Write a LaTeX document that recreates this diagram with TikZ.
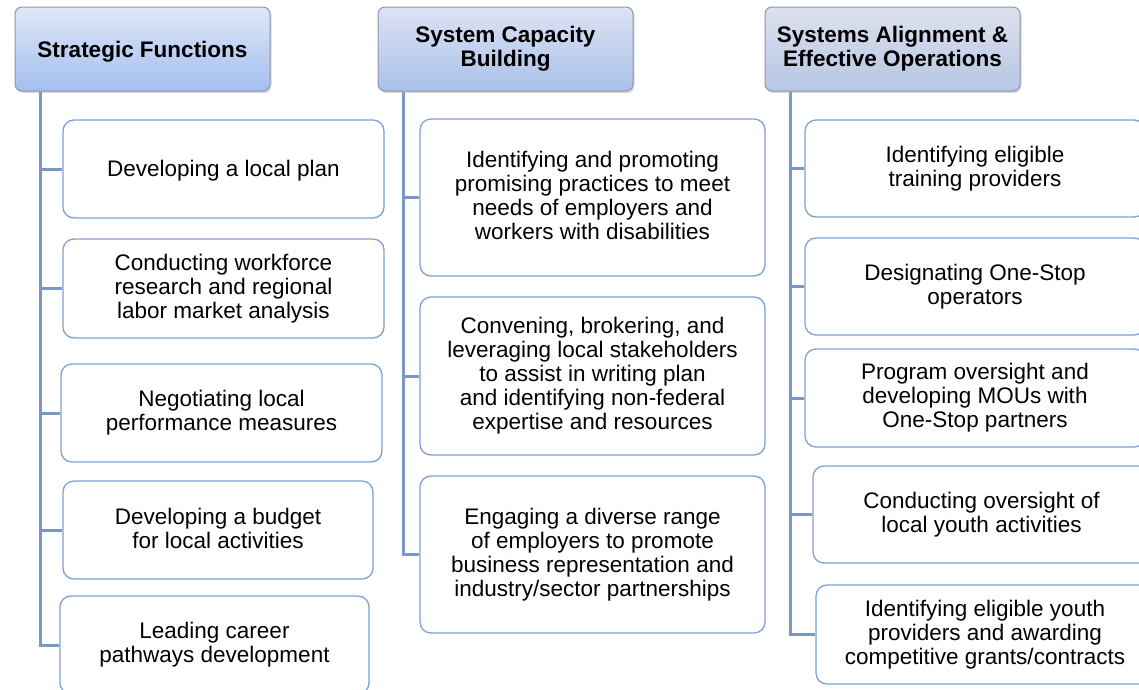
\documentclass[tikz,border=0pt]{standalone}
\usepackage{fontspec}
\setmainfont{Liberation Sans}
\usetikzlibrary{shadows}
\definecolor{conn}{HTML}{7B97C6}
\definecolor{boxline}{HTML}{7FA0D4}
\definecolor{hdline}{HTML}{8C96AA}
\begin{document}
\begin{tikzpicture}[x=1pt,y=-1pt,
  hdr/.style={rectangle, rounded corners=7pt, draw=hdline, line width=1pt,
    inner sep=0pt, align=center,
    font=\fontsize{22.5}{24}\selectfont\bfseries,
    minimum width=255pt, minimum height=84pt,
    execute at begin node={\rule{0pt}{21pt}},
    execute at end node={\rule[-3pt]{0pt}{3pt}},
    drop shadow={shadow xshift=1.5pt, shadow yshift=-2pt, opacity=0.3}},
  item/.style={rectangle, rounded corners=11pt, draw=boxline, line width=1.3pt,
    fill=white, inner sep=0pt, align=center,
    execute at begin node={\rule{0pt}{20pt}},
    execute at end node={\rule[-4pt]{0pt}{4pt}},
    font=\fontsize{22.5}{24}\selectfont},
  link/.style={draw=conn, line width=3pt}]
\useasboundingbox (0,0) rectangle (1139,689);
\clip (0,0) rectangle (1139,689);

% headers
\node[hdr, top color={rgb,255:red,222;green,231;blue,247}, bottom color={rgb,255:red,164;green,190;blue,238}] (h1) at (142.5,49) {Strategic Functions};
\node[hdr, top color={rgb,255:red,220;green,227;blue,243}, bottom color={rgb,255:red,170;green,192;blue,234}] (h2) at (505.5,49) {System Capacity\\Building};
\node[hdr, top color={rgb,255:red,221;green,225;blue,236}, bottom color={rgb,255:red,183;green,198;blue,228}] (h3) at (892.5,49) {Systems Alignment \&\\Effective Operations};

% column 1
\node[item, minimum width=321pt, minimum height=98pt] (b11) at (223.5,169) {Developing a local plan};
\node[item, minimum width=321pt, minimum height=99pt] (b12) at (223.5,288.5) {Conducting workforce\\research and regional\\labor market analysis};
\node[item, minimum width=321pt, minimum height=98pt] (b13) at (221.5,413) {Negotiating local\\performance measures};
\node[item, minimum width=310pt, minimum height=98pt] (b14) at (218,530) {Developing a budget\\for local activities};
\node[item, minimum width=309pt, minimum height=98pt] (b15) at (214.5,645) {Leading career\\pathways development};

% column 2
\node[item, minimum width=345pt, minimum height=157pt] (b21) at (592.5,197.5) {Identifying and promoting\\promising practices to meet\\needs of employers and\\workers with disabilities};
\node[item, minimum width=345pt, minimum height=158pt] (b22) at (592.5,376) {Convening, brokering, and\\leveraging local stakeholders\\to assist in writing plan\\and identifying non-federal\\expertise and resources};
\node[item, minimum width=345pt, minimum height=157pt] (b23) at (592.5,554.5) {Engaging a diverse range\\of employers to promote\\business representation and\\industry/sector partnerships};

% column 3
\node[item, minimum width=340pt, minimum height=97pt] (b31) at (975,168.5) {Identifying eligible\\training providers};
\node[item, minimum width=340pt, minimum height=97pt] (b32) at (975,286.5) {Designating One-Stop\\operators};
\node[item, minimum width=340pt, minimum height=98pt] (b33) at (975,398) {Program oversight and\\developing MOUs with\\One-Stop partners};
\node[item, minimum width=337pt, minimum height=97pt] (b34) at (981.5,514.5) {Conducting oversight of\\local youth activities};
\node[item, minimum width=338pt, minimum height=99pt] (b35) at (985,634.5) {Identifying eligible youth\\providers and awarding\\competitive grants/contracts};

% connectors
\foreach \b in {b11,b12,b13,b14,b15}
  \draw[link] ([xshift=26pt]h1.south west) |- (\b.west);
\foreach \b in {b21,b22,b23}
  \draw[link] ([xshift=26pt]h2.south west) |- (\b.west);
\foreach \b in {b31,b32,b33,b34,b35}
  \draw[link] ([xshift=26pt]h3.south west) |- (\b.west);
\end{tikzpicture}
\end{document}
